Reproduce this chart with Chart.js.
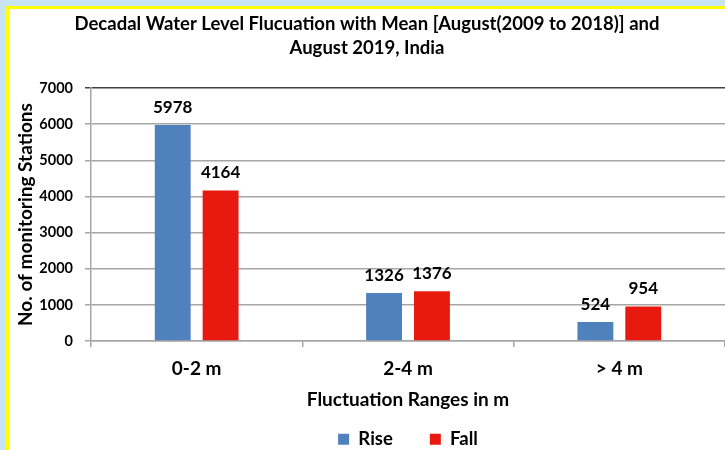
<!DOCTYPE html>
<html>
<head>
<meta charset="utf-8">
<script src="https://cdn.jsdelivr.net/npm/chart.js@4/dist/chart.umd.min.js"></script>
<style>
  html, body { margin: 0; padding: 0; }
  body { background: #C7E3F4; width: 725px; height: 450px; position: relative; overflow: hidden; }
  #frame { position: absolute; left: 6px; top: 6px; width: 719px; height: 444px; background: #FFFF00; }
  #inner { position: absolute; left: 3px; top: 3px; width: 716px; height: 441px; background: #FFFFFF; }
  canvas { display: block; }
</style>
</head>
<body>
<div id="frame"><div id="inner"><canvas id="c" width="716" height="441"></canvas></div></div>
<script>
const categories = ['0-2 m', '2-4 m', '> 4 m'];
const riseValues = [5978, 1326, 524];
const fallValues = [4164, 1376, 954];
const yTicks = [0, 1000, 2000, 3000, 4000, 5000, 6000, 7000];
const titleLines = ['Decadal Water Level Flucuation with Mean [August(2009 to 2018)] and', 'August 2019, India'];

const FONT = 'Lato';

const valueLabels = {
  id: 'valueLabels',
  afterDatasetsDraw(chart) {
    const ctx = chart.ctx;
    ctx.save();
    ctx.font = 'bold 17px ' + FONT;
    ctx.fillStyle = '#000000';
    ctx.textAlign = 'center';
    ctx.textBaseline = 'middle';
    chart.data.datasets.forEach((ds, i) => {
      chart.getDatasetMeta(i).data.forEach((bar, j) => {
        ctx.fillText(String(ds.data[j]), bar.x, bar.y - 18);
      });
    });
    ctx.restore();
  }
};

new Chart(document.getElementById('c'), {
  type: 'bar',
  data: {
    labels: categories,
    datasets: [
      { label: 'Rise', data: riseValues, backgroundColor: '#4F81BD', barPercentage: 0.75, categoryPercentage: 0.453 },
      { label: 'Fall', data: fallValues, backgroundColor: '#E8190F', barPercentage: 0.75, categoryPercentage: 0.453 }
    ]
  },
  options: {
    responsive: false,
    animation: false,
    layout: { padding: { left: 0, right: 0, top: 0, bottom: 0 } },
    plugins: {
      title: {
        display: true,
        text: titleLines,
        color: '#000000',
        font: { family: FONT, size: 18.5, weight: 'bold', lineHeight: 1.3 },
        padding: { top: 3, bottom: 28 }
      },
      legend: {
        position: 'bottom',
        fullSize: false,
        maxHeight: 57,
        labels: {
          color: '#000000',
          font: { family: FONT, size: 18.5, weight: 'bold' },
          boxWidth: 11,
          boxHeight: 11,
          padding: 37
        }
      },
      tooltip: { enabled: false }
    },
    scales: {
      x: {
        afterFit(scale) { scale.height = 52; },
        grid: { offset: true, drawOnChartArea: false, drawTicks: true, tickLength: 6, color: '#A6A6A6', lineWidth: 1.5 },
        border: { color: '#A6A6A6', width: 1.5 },
        ticks: { color: '#000000', font: { family: FONT, size: 19, weight: 'bold' }, padding: 10 },
        title: {
          display: true,
          text: 'Fluctuation Ranges in m',
          color: '#000000',
          font: { family: FONT, size: 19, weight: 'bold' },
          padding: { top: 0, bottom: -18 }
        }
      },
      y: {
        min: 0,
        max: 7000,
        afterFit(scale) { scale.width = 82; },
        afterBuildTicks(scale) { scale.ticks = yTicks.map(v => ({ value: v })); },
        grid: {
          color: (c) => (c.tick && c.tick.value === 7000 ? '#404040' : '#A6A6A6'),
          lineWidth: 1.5,
          tickLength: 6
        },
        border: { color: '#A6A6A6', width: 1.5 },
        ticks: {
          color: '#000000',
          font: { family: FONT, size: 14.5, weight: 'bold' },
          padding: 12,
          callback: (v) => String(v)
        },
        title: {
          display: true,
          text: 'No. of monitoring Stations',
          color: '#000000',
          font: { family: FONT, size: 19, weight: 'bold' },
          padding: { top: 5, bottom: 0 }
        }
      }
    }
  },
  plugins: [valueLabels]
});
</script>
</body>
</html>
